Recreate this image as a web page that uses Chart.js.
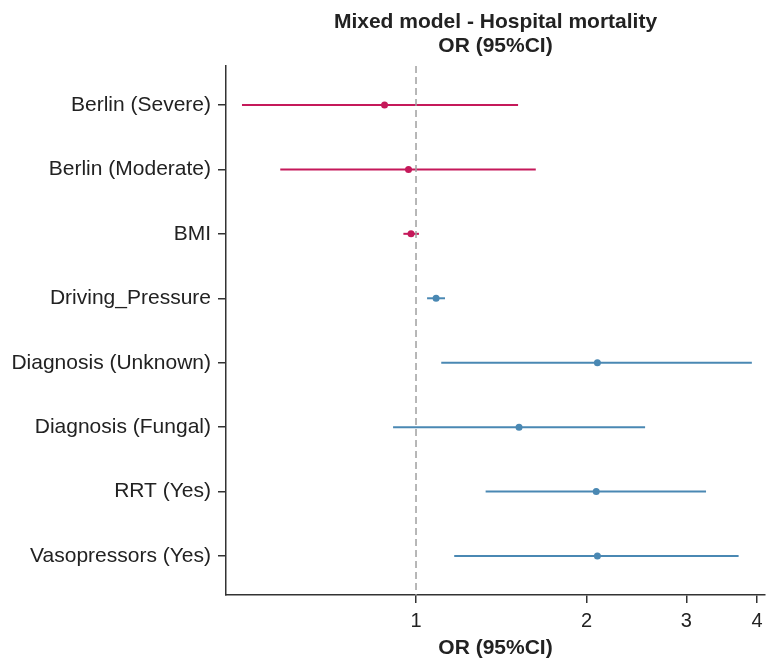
<!DOCTYPE html>
<html>
<head>
<meta charset="utf-8">
<script src="https://cdn.jsdelivr.net/npm/chart.js@4.4.1/dist/chart.umd.min.js"></script>
<style>
  html,body{margin:0;padding:0;background:#fff}
  #wrap{width:769px;height:661px}
</style>
</head>
<body>
<div id="wrap"><canvas id="forest" width="769" height="661"></canvas></div>
<script>
// ── Data ──
const labels = ['Berlin (Severe)','Berlin (Moderate)','BMI','Driving_Pressure','Diagnosis (Unknown)','Diagnosis (Fungal)','RRT (Yes)','Vasopressors (Yes)'];
const orValues = [0.88, 0.97, 0.98, 1.085, 2.09, 1.52, 2.08, 2.09];
const ciLow  = [0.493, 0.576, 0.950, 1.046, 1.108, 0.911, 1.327, 1.168];
const ciHigh = [1.514, 1.627, 1.012, 1.125, 3.915, 2.537, 3.25, 3.71];
const groupColor = ['#c5195a','#c5195a','#c5195a','#4a88b3','#4a88b3','#4a88b3','#4a88b3','#4a88b3'];
const xTicks = [1,2,3,4];

const FONT = "'Liberation Sans', Arial, sans-serif";

// one line per confidence interval
const ciSets = labels.map((l,i)=>({
  type:'line',
  data:[{x:ciLow[i],y:i},{x:ciHigh[i],y:i}],
  borderColor:groupColor[i],
  borderWidth:2,
  pointRadius:0,
  fill:false
}));

// reference line at OR = 1
const refLine = {
  type:'line',
  data:[{x:1,y:-0.604},{x:1,y:7.604}],
  borderColor:'#a0a0a0',
  borderWidth:1.5,
  borderDash:[7,4],
  pointRadius:0,
  fill:false
};

const points = {
  type:'scatter',
  data:orValues.map((v,i)=>({x:v,y:i})),
  backgroundColor:groupColor,
  borderColor:groupColor,
  pointRadius:3.5,
  borderWidth:0
};

new Chart(document.getElementById('forest'),{
  data:{datasets:[refLine,...ciSets,points]},
  options:{
    responsive:false,
    animation:false,
    layout:{padding:{top:0,right:0,bottom:0,left:0}},
    plugins:{
      legend:{display:false},
      tooltip:{enabled:false},
      title:{
        display:true,
        fullSize:false,
        text:['Mixed model - Hospital mortality','OR (95%CI)'],
        color:'#222',
        font:{family:FONT,size:21,weight:'bold',lineHeight:24/21},
        padding:{top:10,bottom:8}
      }
    },
    scales:{
      x:{
        type:'logarithmic',
        min:0.462,
        max:4.13,
        afterBuildTicks:s=>{s.ticks=xTicks.map(v=>({value:v}));},
        afterFit:s=>{s.height=66;},
        ticks:{
          color:'#222',
          // no padding so the last label doesn't shrink the plot; lineHeight drops labels down
          font:{family:FONT,size:20,lineHeight:1.8},
          padding:0,
          autoSkip:false,
          maxRotation:0,
          callback:v=>String(v)
        },
        grid:{display:true,drawOnChartArea:false,tickLength:8,color:'#333',lineWidth:1.5},
        border:{display:true,color:'#333',width:1.5},
        title:{
          display:true,
          text:'OR (95%CI)',
          color:'#222',
          font:{family:FONT,size:21,weight:'bold'},
          padding:{top:1,bottom:0}
        }
      },
      y:{
        type:'linear',
        reverse:true,
        min:-0.604,
        max:7.604,
        afterBuildTicks:s=>{s.ticks=labels.map((l,i)=>({value:i}));},
        afterFit:s=>{s.width=226;},
        ticks:{
          color:'#222',
          font:{family:FONT,size:21},
          padding:7,
          autoSkip:false,
          callback:v=>labels[v]
        },
        grid:{display:true,drawOnChartArea:false,tickLength:8,color:'#333',lineWidth:1.5},
        border:{display:true,color:'#333',width:1.5}
      }
    }
  }
});
</script>
</body>
</html>
